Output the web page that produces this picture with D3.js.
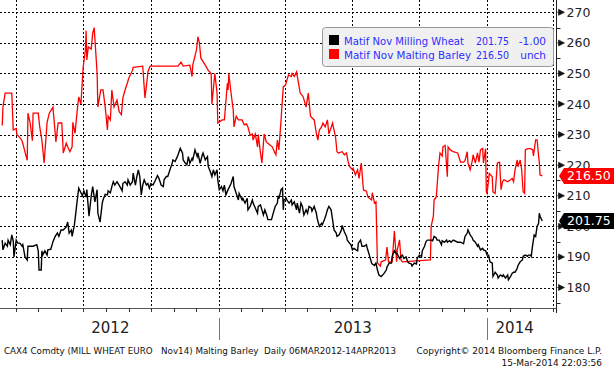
<!DOCTYPE html>
<html>
<head>
<meta charset="utf-8">
<script src="https://cdn.jsdelivr.net/npm/d3@7"></script>
<style>
	body { margin: 0; background: #fff; }
	svg { display: block; font-family: "DejaVu Sans", sans-serif; }
</style>
</head>
<body>
<svg id="chart" width="614" height="374"></svg>
<script>
// days since 10 Mar 2012, price
const wheat = [
	[3,195.5],[4,192.3],[7,194.5],[10,193.5],[11,195.5],[14,194],[16,197.2],[18,195.3],[19,190],[22,195.5],
	[24,194.5],[27,194.5],[30,193.5],[31,194],[34,190],[37,189],[38,193.5],[44,193.5],[45,193.5],[50,194],
	[52,192],[53,185.7],[56,185.7],[57,192],[58,190.6],[61,192],[64,190.6],[65,192.3],[69,192.5],[72,195],
	[75,196.7],[78,197.8],[80,196.7],[83,198.8],[86,198.8],[90,199.8],[92,201.4],[94,197.8],[97,198.8],[98,196.7],
	[101,200.3],[103,204.3],[105,208.6],[107,212.5],[110,211],[112,210],[114,211.6],[117,209.6],[118,212],[121,203.3],
	[124,210],[126,213],[129,208],[132,212],[133,204.3],[136,201.4],[139,207.6],[140,208.6],[143,210.5],[146,210.3],
	[147,211.6],[150,211],[152,213],[154,214.6],[156,213.5],[159,214.6],[160,214.2],[163,213],[166,211.6],[167,214],
	[170,214.6],[173,213.5],[174,215.2],[177,213.5],[180,214.6],[181,217.4],[184,213.5],[186,216.3],[188,218.5],[190,216.3],
	[192,210.3],[194,213.5],[196,215.2],[199,213.5],[201,214],[203,212.5],[205,214],[208,213.5],[211,215],[214,216.6],
	[216,215.7],[219,213.5],[222,213],[223,215.2],[226,216.3],[228,216.3],[231,218.5],[234,220.6],[235,221.7],[238,221.2],
	[241,222.8],[242,223.4],[245,225.5],[248,224],[249,221.7],[252,220.6],[254,220.1],[256,222.8],[258,220.6],[261,222.2],
	[262,221.7],[265,225],[268,222.8],[269,224],[272,220.6],[275,223.4],[276,224],[279,221.7],[282,222.8],[283,219.6],
	[286,217.8],[288,216.3],[290,218.5],[292,216.8],[295,218.5],[296,215.2],[298,212],[301,213],[303,211.6],[305,213.5],
	[307,210.3],[310,212],[311,212.5],[314,214],[317,216.3],[318,213],[321,210.8],[324,208.6],[325,210.8],[329,208.6],
	[330,209.2],[333,207.6],[336,209.2],[337,205.4],[340,206.5],[343,208.6],[344,207.6],[347,206],[350,204.3],[351,206.5],
	[354,207],[356,205.4],[358,203.7],[360,205.4],[363,203.3],[364,202.2],[369,202.2],[371,204],[374,206.5],[377,207.6],
	[378,210],[379,209],[382,212],[384,212.5],[385,205.4],[386,208.6],[389,209.2],[390,208.6],[393,207.6],[396,208.6],
	[397,207],[400,208],[403,205.4],[404,207.6],[407,204.3],[409,207.6],[411,206.5],[413,203.7],[416,205.4],[418,204.3],
	[420,206.5],[423,206],[424,205],[427,206.5],[430,204.3],[431,202.7],[434,200],[437,201],[438,200.5],[441,202.2],
	[443,203.7],[445,205.4],[447,206.5],[450,205.4],[452,202.2],[454,198.8],[457,197.8],[458,196.7],[461,197.2],[464,198.8],
	[465,200.3],[468,198.2],[471,196.7],[472,195.5],[475,194.5],[477,194],[479,192.3],[481,192.8],[484,192.3],[486,192],
	[487,194.5],[490,195.5],[492,193.5],[495,193.5],[498,194],[499,193],[502,190.6],[505,188],[506,187.7],[509,187.2],
	[511,188],[513,185.7],[515,184.1],[518,183.6],[520,184.1],[522,184.6],[525,185.7],[526,186.7],[529,188],[532,188],
	[533,190.2],[536,192],[539,191],[540,191],[543,189.5],[545,190.2],[547,190.6],[549,189.5],[552,190],[554,188.4],
	[556,188],[559,187.7],[560,187],[563,188],[566,187.7],[567,189.5],[570,190.6],[573,190.2],[574,192],[577,193.5],
	[579,195],[581,195.5],[583,195.5],[586,195.5],[588,195.3],[590,196.7],[593,196.2],[594,195.5],[597,195.5],[600,194],
	[601,195.3],[604,194.8],[607,195.5],[608,194.8],[611,195.3],[613,194.8],[616,195.5],[622,194.8],[626,194.8],[630,194.3],
	[632,196.7],[635,197.8],[636,198.8],[639,197.2],[642,196.2],[643,195.5],[646,194.8],[649,193.5],[650,194],[653,192.3],
	[656,192.8],[657,192.3],[660,192],[662,190.6],[664,190.6],[666,188.4],[669,188],[670,183.6],[673,185],[676,184.1],
	[677,183.1],[680,184.1],[683,183.6],[684,184.1],[687,183.1],[690,184.1],[691,182.5],[694,183.6],[696,184.6],[698,185],
	[700,185],[703,186.3],[704,187.2],[707,188.4],[710,189],[711,190.2],[714,190.6],[717,190.2],[718,190.6],[721,190.6],
	[722,190.2],[724,194],[725,195.5],[726,197.2],[728,196.7],[730,200],[732,201],[733,204.3],[734,203.3],[737,201.75]
];

const barley = [
	[3,233],[4,239],[7,243.6],[16,243.6],[18,231.5],[22,232],[23,230],[27,229],[30,228],[37,221.6],
	[38,237],[41,233.8],[44,228],[45,237],[52,237],[54,232.5],[57,228],[60,220.7],[64,234],[67,237],
	[72,239],[73,236],[76,227.6],[79,233.8],[84,233.8],[86,224],[90,227.2],[92,226],[95,224.4],[98,226],
	[99,234],[102,230.4],[105,238],[107,242.3],[110,240],[113,252],[116,257.6],[117,264],[118,254.4],[120,258.7],
	[124,258],[126,263.2],[128,265],[132,250],[133,239],[137,244.6],[140,244.6],[143,239],[146,231.5],[147,236],
	[150,234.8],[152,244.6],[155,239],[159,241.3],[162,237.5],[165,236.5],[167,242],[170,244.6],[173,246.8],[175,248.4],
	[180,251],[181,252],[194,252.4],[197,242],[200,248],[201,250.5],[204,252.4],[242,252.4],[246,253.7],[249,252.4],
	[258,252.7],[261,249],[262,252.7],[267,257.7],[269,262],[271,260],[273,255],[279,252.7],[283,251],[287,250],
	[288,240],[292,250],[295,243.6],[296,233.8],[302,234.8],[305,234.8],[309,246.8],[310,244.6],[311,250],[314,243.6],
	[317,238],[318,232.5],[321,236],[324,234.8],[329,234.8],[332,233.2],[335,233.5],[337,232.5],[340,229.8],[343,230.2],
	[344,228.2],[347,230.2],[350,226],[351,230],[354,224],[356,220.7],[359,230.2],[362,227.6],[364,227.2],[370,226],
	[373,224.4],[375,223.4],[377,228.2],[379,225],[382,234.8],[385,245.6],[388,246.2],[390,247.8],[392,249.5],[396,249],
	[397,250],[400,249],[403,250.5],[405,247.8],[408,243.6],[412,242.4],[416,239],[419,243.6],[422,236],[424,235.5],
	[427,234.8],[430,230.4],[432,228.2],[434,231.5],[437,232.5],[439,233.8],[442,232.5],[445,234.8],[447,230.2],[452,233.8],
	[453,232.5],[456,229.3],[458,224.4],[460,224],[465,224.4],[468,223.4],[471,224],[473,221.3],[475,219.6],[479,218.5],
	[480,219],[483,216.8],[486,218.5],[488,215.7],[491,220.7],[494,211.9],[498,211.5],[500,209.6],[505,208.6],[506,211],
	[509,207.6],[511,208],[513,188],[517,187],[518,188.4],[524,189],[526,193.2],[528,188.4],[533,188.4],[536,198.5],
	[539,188.4],[540,192.3],[543,195.6],[545,189],[547,188.4],[585,189],[586,200],[589,203.3],[590,208.6],[593,209.6],
	[596,219.6],[598,224],[601,223],[602,226],[605,226.5],[608,216.2],[609,226],[612,225],[616,224.4],[622,224],
	[626,221],[630,221],[632,221.5],[635,224.4],[636,220.7],[639,218.5],[642,221.6],[643,223.4],[646,220.7],[649,224],
	[651,221],[653,225],[656,225.5],[657,220.7],[660,225.4],[661,211.3],[662,210.8],[665,217.3],[669,216.2],[670,211.3],
	[673,210.8],[676,220.7],[679,221],[681,212],[683,214.6],[685,215.2],[690,214.6],[694,215.2],[696,215.7],[698,214.6],
	[700,218.5],[703,221.7],[704,219.5],[707,221.7],[709,218.5],[711,211.3],[713,210.8],[714,225],[717,225.4],[721,225.4],
	[724,225],[725,223],[728,228.3],[730,228.3],[732,223],[733,221],[734,216.8],[737,216.5]
];

const yTicks = [180, 190, 200, 210, 220, 230, 240, 250, 260, 270];
const years = [2012, 2013, 2014];
const legendRows = [
	{ name: "Matif Nov Milling Wheat", last: "201.75", chg: "-1.00", color: "#000000" },
	{ name: "Matif Nov Malting Barley", last: "216.50", chg: "unch", color: "#ff0000" }
];
const footLeft = "CAX4 Comdty (MILL WHEAT EURO   Nov14) Malting Barley  Daily 06MAR2012-14APR2013";
const footRight1 = "Copyright\u00A9 2014 Bloomberg Finance L.P.";
const footRight2 = "15-Mar-2014 22:03:56";

const base = Date.UTC(2012, 2, 10);
const toDate = (d) => new Date(base + d * 86400000);

const svg = d3.select("#chart");
const plotRight = 556.5, plotBottom = 308;

const x = d3.scaleUtc()
	.domain([new Date(base), new Date(Date.UTC(2014, 3, 1))])
	.range([0, 553.3]);
const y = d3.scaleLinear().domain([180, 270]).range([287.5, 12.3]);

// grid
const grid = svg.append("g").attr("stroke", "#000").attr("stroke-dasharray", "2,2").attr("stroke-width", 1);
grid.selectAll(".hg").data(yTicks).enter().append("line")
	.attr("x1", 0).attr("x2", plotRight)
	.attr("y1", (d) => Math.round(y(d)) + 0.5).attr("y2", (d) => Math.round(y(d)) + 0.5);
const months = d3.utcMonth.range(x.domain()[0], d3.utcDay.offset(x.domain()[1], 1));
grid.selectAll(".vg").data(months.filter((m) => m.getUTCMonth() % 3 == 0)).enter().append("line")
	.attr("x1", (d) => Math.round(x(d)) + 0.5).attr("x2", (d) => Math.round(x(d)) + 0.5)
	.attr("y1", 0).attr("y2", plotBottom);

// series
const line = d3.line().x((d) => x(toDate(d[0]))).y((d) => y(d[1]));
svg.append("path").datum(barley).attr("fill", "none").attr("stroke", "#ff0000").attr("stroke-width", 1.3).attr("d", line);
svg.append("path").datum(wheat).attr("fill", "none").attr("stroke", "#000").attr("stroke-width", 1.4).attr("d", line);

// bottom axis
svg.append("line").attr("x1", 0).attr("x2", plotRight).attr("y1", plotBottom + 0.5).attr("y2", plotBottom + 0.5)
	.attr("stroke", "#555");
svg.selectAll(".mt").data(months).enter().append("line")
	.attr("x1", (d) => Math.round(x(d)) + 0.5).attr("x2", (d) => Math.round(x(d)) + 0.5)
	.attr("y1", plotBottom).attr("y2", plotBottom + 4).attr("stroke", "#333");

const lastDate = toDate(wheat[wheat.length - 1][0]);
const firstDate = toDate(wheat[0][0]);
years.forEach((yr, i) => {
	const s = Math.max(x(new Date(Date.UTC(yr, 0, 1))), x(firstDate));
	const e = Math.min(x(new Date(Date.UTC(yr + 1, 0, 1))), x(lastDate));
	svg.append("text").attr("x", (s + e) / 2).attr("y", 333).attr("text-anchor", "middle")
		.style("font-size", "15px").attr("fill", "#222").text(yr);
	if (i > 0) {
		svg.append("line").attr("x1", Math.round(s) + 0.5).attr("x2", Math.round(s) + 0.5)
			.attr("y1", 318).attr("y2", 340).attr("stroke", "#777");
	}
});

// right axis
svg.append("line").attr("x1", plotRight).attr("x2", plotRight).attr("y1", 0).attr("y2", 313)
	.attr("stroke", "#222");
const minor = d3.range(175, 275, 10);
svg.selectAll(".mn").data(minor).enter().append("line")
	.attr("x1", plotRight).attr("x2", plotRight + 4)
	.attr("y1", (d) => Math.round(y(d)) + 0.5).attr("y2", (d) => Math.round(y(d)) + 0.5)
	.attr("stroke", "#222");
const ticks = svg.selectAll(".yt").data(yTicks).enter().append("g")
	.attr("transform", (d) => `translate(${plotRight},${y(d)})`);
ticks.append("path").attr("d", "M0,0H2M2,-3L8,0L2,3Z").attr("fill", "#111").attr("stroke", "#111").attr("stroke-width", 0.6);
ticks.append("text").attr("x", 10).attr("dy", "0.36em").style("font-size", "12.5px").attr("fill", "#222")
	.text((d) => d);

// last price tags
const tags = [
	{ v: barley[barley.length - 1][1], color: "#ff0000" },
	{ v: wheat[wheat.length - 1][1], color: "#000000" }
];
tags.forEach((t) => {
	const g = svg.append("g").attr("transform", `translate(0,${y(t.v)})`);
	g.append("path").attr("d", "M559,0L564,-8H614V8H564Z").attr("fill", t.color);
	g.append("text").attr("x", 567).attr("dy", "0.36em").style("font-size", "12.5px").attr("fill", "#fff")
		.text(d3.format(".2f")(t.v));
});

// legend
const lg = svg.append("g");
lg.append("rect").attr("x", 322.5).attr("y", 27.5).attr("width", 231).attr("height", 39).attr("rx", 3)
	.attr("fill", "#f0f0f0").attr("stroke", "#999");
legendRows.forEach((r, i) => {
	const yy = 35 + i * 14;
	lg.append("rect").attr("x", 329).attr("y", yy).attr("width", 10).attr("height", 10).attr("fill", r.color);
	lg.append("text").attr("x", 344).attr("y", yy + 9.5).style("font-size", "10.5px").attr("fill", "#2e2eff")
		.attr("textLength", i == 0 ? 120 : 127).attr("lengthAdjust", "spacingAndGlyphs").text(r.name);
	lg.append("text").attr("x", 476).attr("y", yy + 9.5).style("font-size", "10.5px").attr("fill", "#2e2eff")
		.attr("textLength", 33).attr("lengthAdjust", "spacingAndGlyphs").text(r.last);
	lg.append("text").attr("x", 546).attr("y", yy + 9.5).attr("text-anchor", "end").style("font-size", "10.5px")
		.attr("fill", "#2e2eff").text(r.chg);
});

// footer
svg.append("text").attr("x", 4).attr("y", 354).style("font-size", "9px").attr("fill", "#111")
	.attr("textLength", 392).attr("lengthAdjust", "spacingAndGlyphs").style("white-space", "pre").text(footLeft);
svg.append("text").attr("x", 602).attr("y", 354).attr("text-anchor", "end").style("font-size", "9px").attr("fill", "#111")
	.text(footRight1);
svg.append("text").attr("x", 602).attr("y", 366).attr("text-anchor", "end").style("font-size", "9px").attr("fill", "#111")
	.text(footRight2);
</script>
</body>
</html>
